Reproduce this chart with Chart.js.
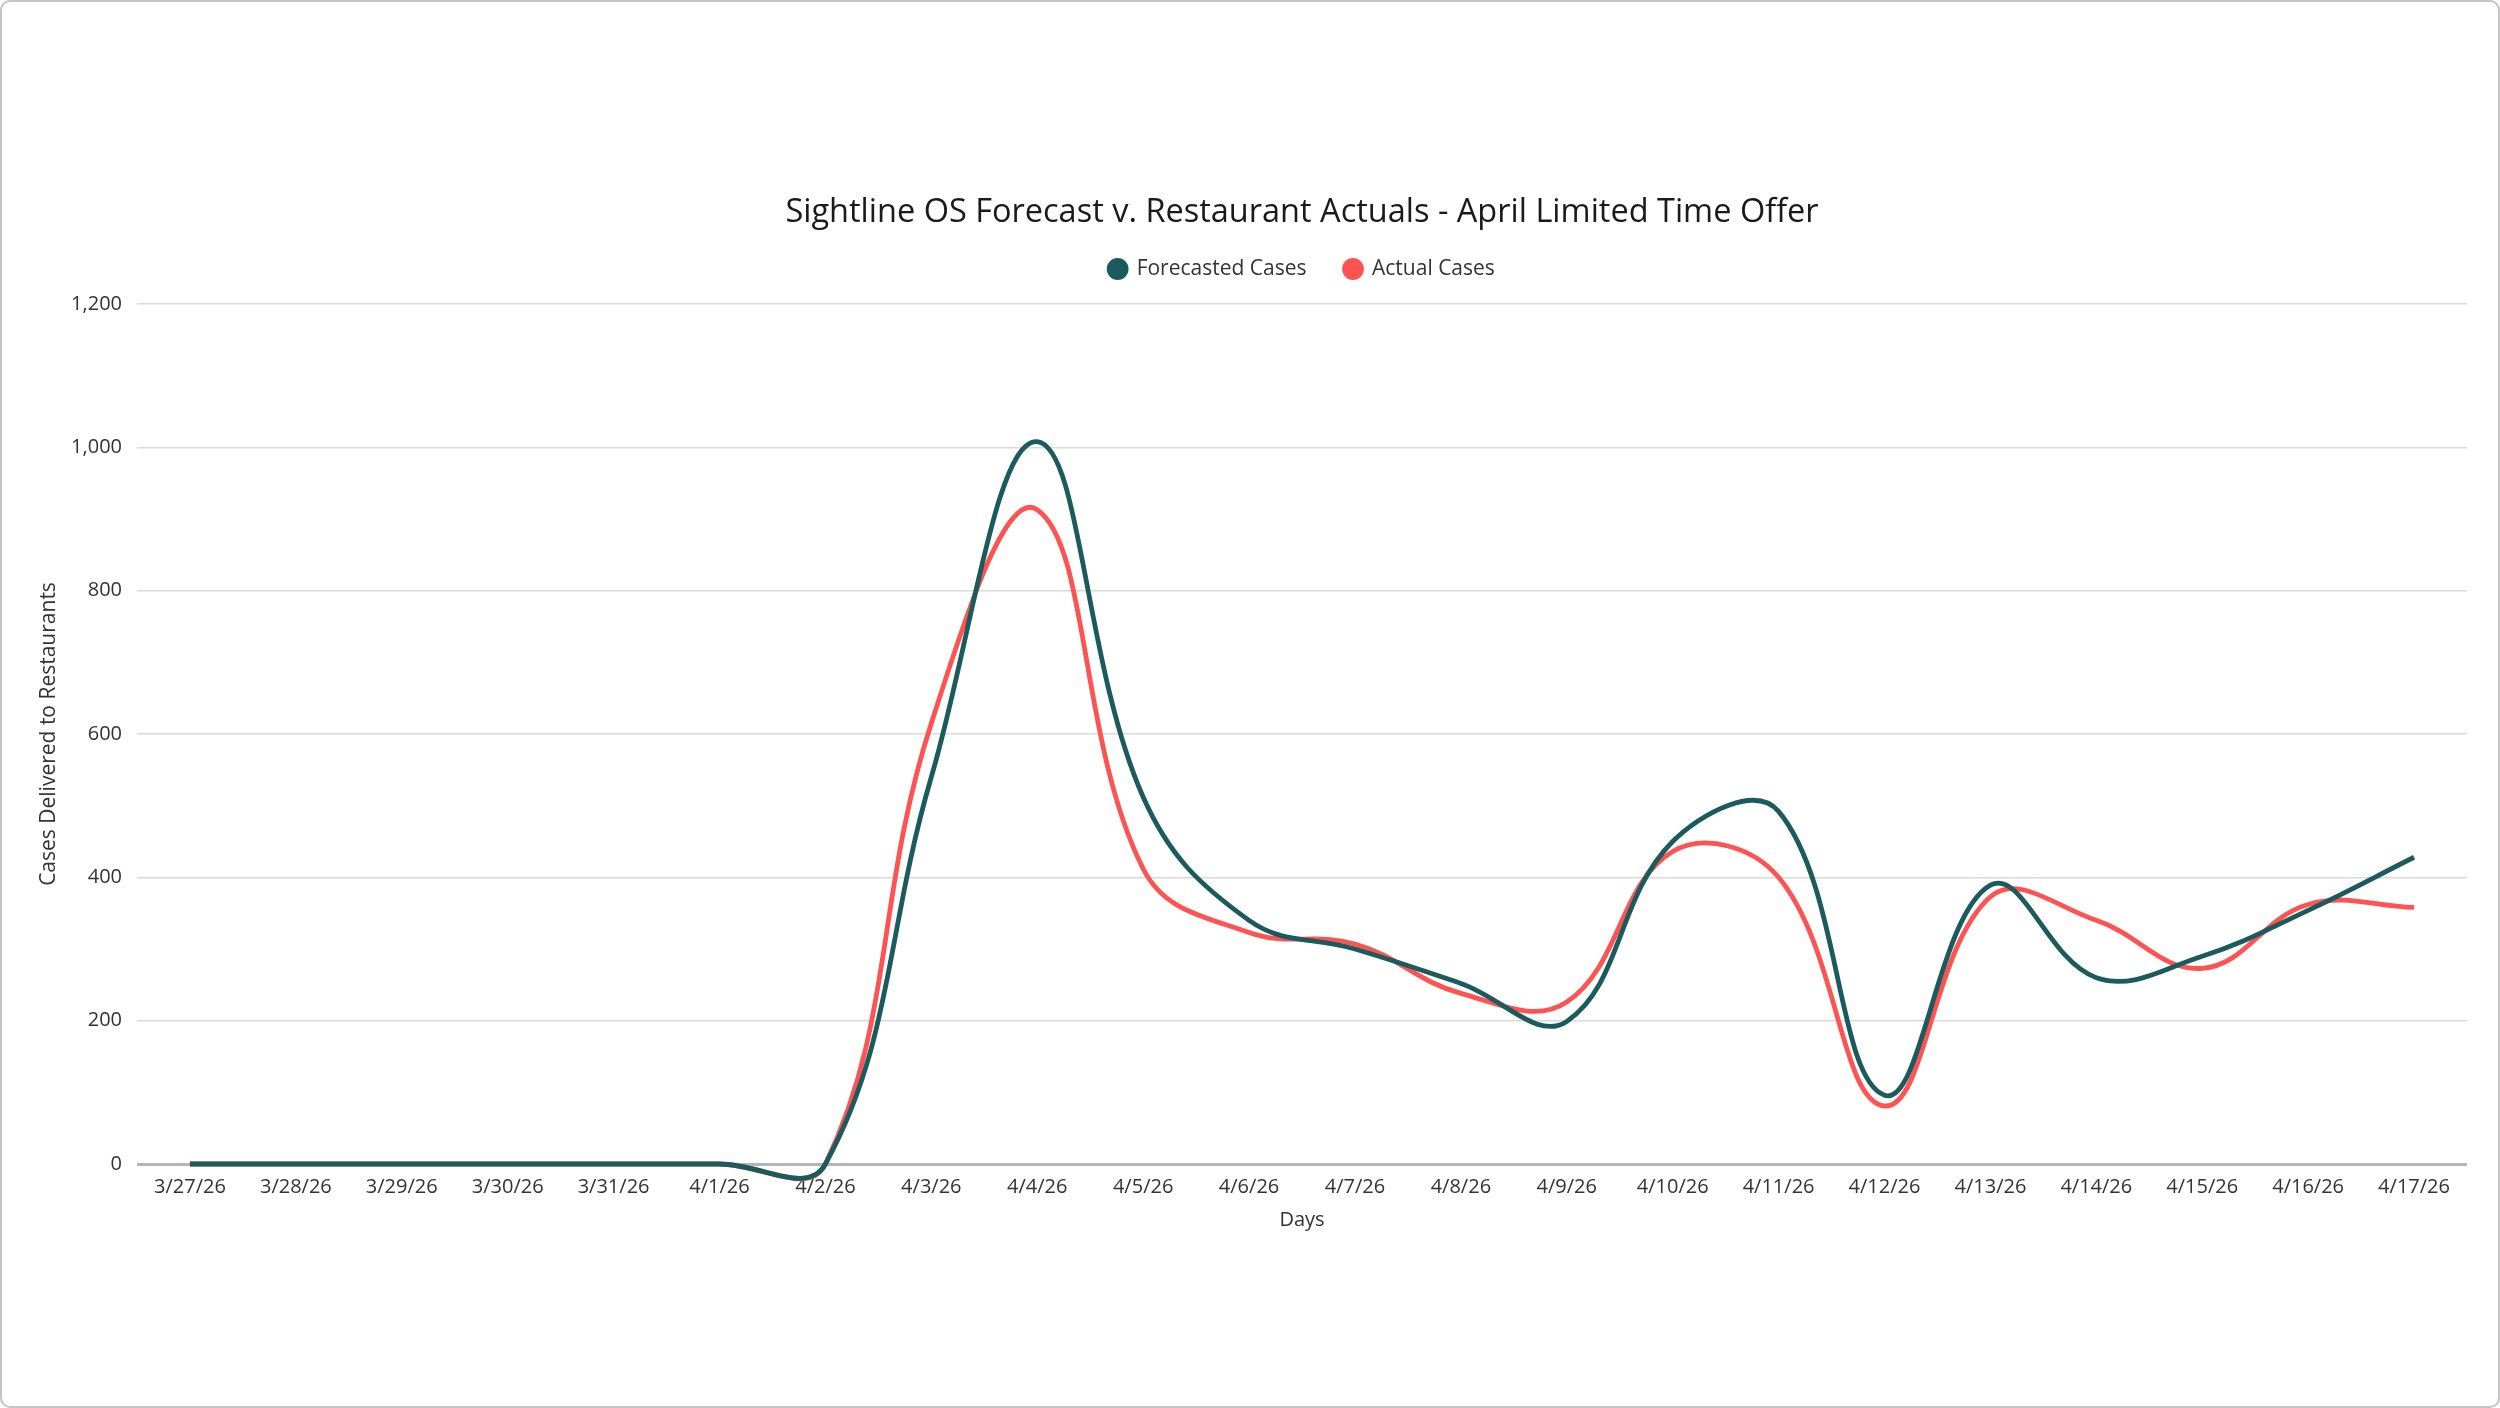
<!DOCTYPE html>
<html>
<head>
<meta charset="utf-8">
<script src="https://cdn.jsdelivr.net/npm/chart.js@4.4.1/dist/chart.umd.min.js"></script>
<style>
  html, body { margin: 0; padding: 0; background: #ffffff; }
  #wrap { position: relative; width: 2500px; height: 1408px; overflow: hidden; }
  #c { position: absolute; left: 0; top: 0; }
  #frame { position: absolute; left: 0; top: 0; width: 2500px; height: 1408px; box-sizing: border-box;
           border: 2px solid #c4c4c4; border-radius: 10px; pointer-events: none; }
</style>
</head>
<body>
<div id="wrap">
  <canvas id="c" width="2500" height="1408"></canvas>
  <div id="frame"></div>
</div>
<script>
const categories = ["3/27/26","3/28/26","3/29/26","3/30/26","3/31/26","4/1/26","4/2/26","4/3/26","4/4/26","4/5/26","4/6/26","4/7/26","4/8/26","4/9/26","4/10/26","4/11/26","4/12/26","4/13/26","4/14/26","4/15/26","4/16/26","4/17/26"];
const forecastedCases = [0,0,0,0,0,0,0,540,1008,512,340,300,252,199,450,492,96,389,260,290,354,428];
const actualCases = [0,0,0,0,0,0,0,615,913,412,323,307,238,226,436,400,81,373,340,273,362,358];
const yTicks = [0,200,400,600,800,1000,1200];

const FONT = "'Open Sans', 'Noto Sans', sans-serif";
const TEAL = "#1b5b5e";
const RED = "#ff5252";

Chart.defaults.font.family = FONT;
Chart.defaults.color = "#222222";

// extra space below the legend row, and centre title + legend over the plot area
const layoutTweaks = {
  id: 'layoutTweaks',
  beforeLayout(chart) {
    const lg = chart.legend;
    if (lg && !lg._gapPatched) {
      const f = lg.fit;
      lg.fit = function () { f.call(this); this.height += 14.5; };
      lg._gapPatched = true;
    }
  },
  afterLayout(chart) {
    const ca = chart.chartArea;
    const mid = (ca.left + ca.right) / 2;
    [chart.titleBlock, chart.legend].forEach(b => {
      if (!b) return;
      const d = mid - (b.left + b.right) / 2;
      b.left += d; b.right += d;
    });
  }
};

new Chart(document.getElementById('c'), {
  type: 'line',
  data: {
    labels: categories,
    datasets: [
      { label: 'Forecasted Cases', data: forecastedCases, borderColor: TEAL, backgroundColor: TEAL,
        borderWidth: 4.8, pointRadius: 0, tension: 0.4, clip: false },
      { label: 'Actual Cases', data: actualCases, borderColor: RED, backgroundColor: RED,
        borderWidth: 4.8, pointRadius: 0, tension: 0.4, clip: false }
    ]
  },
  plugins: [layoutTweaks],
  options: {
    responsive: false,
    devicePixelRatio: 1,
    animation: false,
    layout: { padding: { top: 193, left: 20, right: 33, bottom: 176 } },
    elements: { line: { capBezierPoints: false } },
    plugins: {
      title: { display: true, text: 'Sightline OS Forecast v. Restaurant Actuals - April Limited Time Offer',
               font: { size: 32.5, weight: 'normal', family: FONT }, color: '#1a1a1a',
               padding: { top: 0, bottom: -11.5 } },
      legend: { display: true, position: 'top',
                labels: { usePointStyle: true, pointStyle: 'circle', boxWidth: 12, boxHeight: 12, pointStyleWidth: 17,
                          padding: 38, font: { size: 21, family: FONT }, color: '#333333' } },
      tooltip: { enabled: false }
    },
    scales: {
      x: {
        offset: true,
        grid: { display: false, drawTicks: false },
        border: { display: false },
        ticks: { autoSkip: false, maxRotation: 0, font: { size: 20, family: FONT }, color: '#333333', padding: 11 },
        title: { display: true, text: 'Days', font: { size: 20, family: FONT }, color: '#333333',
                 padding: { top: -2, bottom: 0 } }
      },
      y: {
        min: 0, max: 1200,
        afterBuildTicks: (scale) => { scale.ticks = yTicks.map(v => ({ value: v })); },
        afterFit: (scale) => { scale.width = 117; },
        grid: {
          drawTicks: false,
          color: (ctx) => (ctx.tick && ctx.tick.value === 0) ? '#b5b5b5' : '#dadada',
          lineWidth: (ctx) => (ctx.tick && ctx.tick.value === 0) ? 3 : 1.5
        },
        border: { display: false },
        ticks: { padding: 15, font: { size: 20, family: FONT }, color: '#333333',
                 callback: (v) => Number(v).toLocaleString('en-US') },
        title: { display: true, text: 'Cases Delivered to Restaurants', font: { size: 21, family: FONT },
                 color: '#333333', padding: { top: 16, bottom: 8 } }
      }
    }
  }
});
</script>
</body>
</html>
